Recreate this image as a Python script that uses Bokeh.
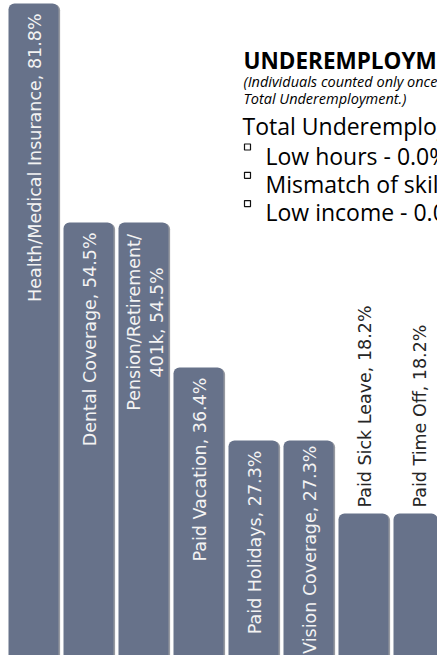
import math
from bokeh.plotting import figure
from bokeh.models import Range1d
from bokeh.core.properties import value
from bokeh.embed import file_html
from bokeh.resources import INLINE

# ---------------- data ----------------
categories = ["Health/Medical Insurance", "Dental Coverage", "Pension/Retirement/401k",
              "Paid Vacation", "Paid Holidays", "Vision Coverage",
              "Paid Sick Leave", "Paid Time Off"]
percentages = [81.8, 54.5, 54.5, 36.4, 27.3, 27.3, 18.2, 18.2]

title_text = "UNDEREMPLOYMENT"
note_lines = ["(Individuals counted only once in", "Total Underemployment.)"]
total_text = "Total Underemployment - 0.0%"
bullet_items = ["Low hours - 0.0%", "Mismatch of skills - 0.0%", "Low income - 0.0%"]

# ---------------- layout / style ----------------
W, H = 437, 655
MARGIN = 0            # the figure lands at the top-left of the picture
PITCH = 55.0          # px per category
BAR_W = 50.0          # px bar width
PX_PER_PCT = 8.02     # px per percentage point
BASE_PAGE_Y = 659     # picture y of the 0% baseline (just below the view)
FIRST_CENTER_X = 33   # picture x of the first bar centre
BAR_COLOR = "#67728a"
SHADOW_COLOR = "#3f4552"
IN_TEXT = "#f3f3f3"
OUT_TEXT = "#262626"
LABEL_FONT = "DejaVu Sans"
HEAD_FONT = "Open Sans"

x_start = -(FIRST_CENTER_X - MARGIN) / PITCH
x_end = x_start + W / PITCH
y_end = (BASE_PAGE_Y - MARGIN) / PX_PER_PCT
y_start = y_end - H / PX_PER_PCT


def dx(page_x):
    return x_start + (page_x - MARGIN) / PITCH


def dy(page_y):
    return y_end - (page_y - MARGIN) / PX_PER_PCT


p = figure(width=W, height=H, output_backend="svg", toolbar_location=None,
           x_range=Range1d(x_start, x_end), y_range=Range1d(y_start, y_end),
           min_border=0, outline_line_color=None, background_fill_color="white",
           border_fill_color="white")
p.axis.visible = False
p.grid.visible = False

xs = list(range(len(categories)))
width_u = BAR_W / PITCH

# shadow behind bars
p.vbar(x=[x + 1.6 / PITCH for x in xs], top=[v - 0.8 / PX_PER_PCT for v in percentages],
       bottom=0, width=width_u, fill_color=SHADOW_COLOR, fill_alpha=0.55,
       line_color=None, border_radius=(6, 6, 0, 0))
# bars
p.vbar(x=xs, top=percentages, bottom=0, width=width_u, fill_color=BAR_COLOR,
       line_color=None, border_radius=(6, 6, 0, 0))

# ---------------- bar labels ----------------
label_kw = dict(angle=math.pi / 2, text_font=value(LABEL_FONT), text_font_size="17.5px",
                text_baseline="middle")
for i, (cat, v) in enumerate(zip(categories, percentages)):
    label = f"{cat}, {v}%"
    if v > 20:
        if "/401k" in label:
            line1, line2 = label.split("/401k")
            line1 += "/"
            line2 = "401k" + line2
            yc = v - 100 / PX_PER_PCT
            p.text(x=[i - 10 / PITCH], y=[yc], text=[line1], text_align="center",
                   text_color=IN_TEXT, **label_kw)
            p.text(x=[i + 13 / PITCH], y=[yc], text=[line2], text_align="center",
                   text_color=IN_TEXT, **label_kw)
        else:
            pad = 5 if cat == "Vision Coverage" else 10
            p.text(x=[i + 1.5 / PITCH], y=[v - pad / PX_PER_PCT], text=[label],
                   text_align="right", text_color=IN_TEXT, **label_kw)
    else:
        p.text(x=[i + 1.5 / PITCH], y=[v + 6 / PX_PER_PCT], text=[label],
               text_align="left", text_color=OUT_TEXT, **label_kw)

# ---------------- overlay heading ----------------
p.text(x=[dx(243)], y=[dy(60)], text=[title_text], text_font=value(HEAD_FONT),
       text_font_style="bold", text_font_size="22.5px", text_color="#000000",
       text_baseline="alphabetic", text_align="left")
for k, line in enumerate(note_lines):
    p.text(x=[dx(243)], y=[dy(81 + 17 * k)], text=[line], text_font=value(HEAD_FONT),
           text_font_style="italic", text_font_size="14.5px", text_color="#000000",
           text_baseline="alphabetic", text_align="left")
p.text(x=[dx(242)], y=[dy(125)], text=[total_text], text_font=value(HEAD_FONT),
       text_font_size="23px", text_color="#000000", text_baseline="alphabetic",
       text_align="left")
for k, item in enumerate(bullet_items):
    base = 155 + 28.3 * k
    p.scatter(x=[dx(247)], y=[dy(base - 8.5)], marker="square", size=6,
              fill_color="white", line_color="#111111", line_width=1.2)
    p.text(x=[dx(265)], y=[dy(base)], text=[item], text_font=value(HEAD_FONT),
           text_font_size="23px", text_color="#000000", text_baseline="alphabetic",
           text_align="left")

open("out.html", "w").write(file_html(p, INLINE))
